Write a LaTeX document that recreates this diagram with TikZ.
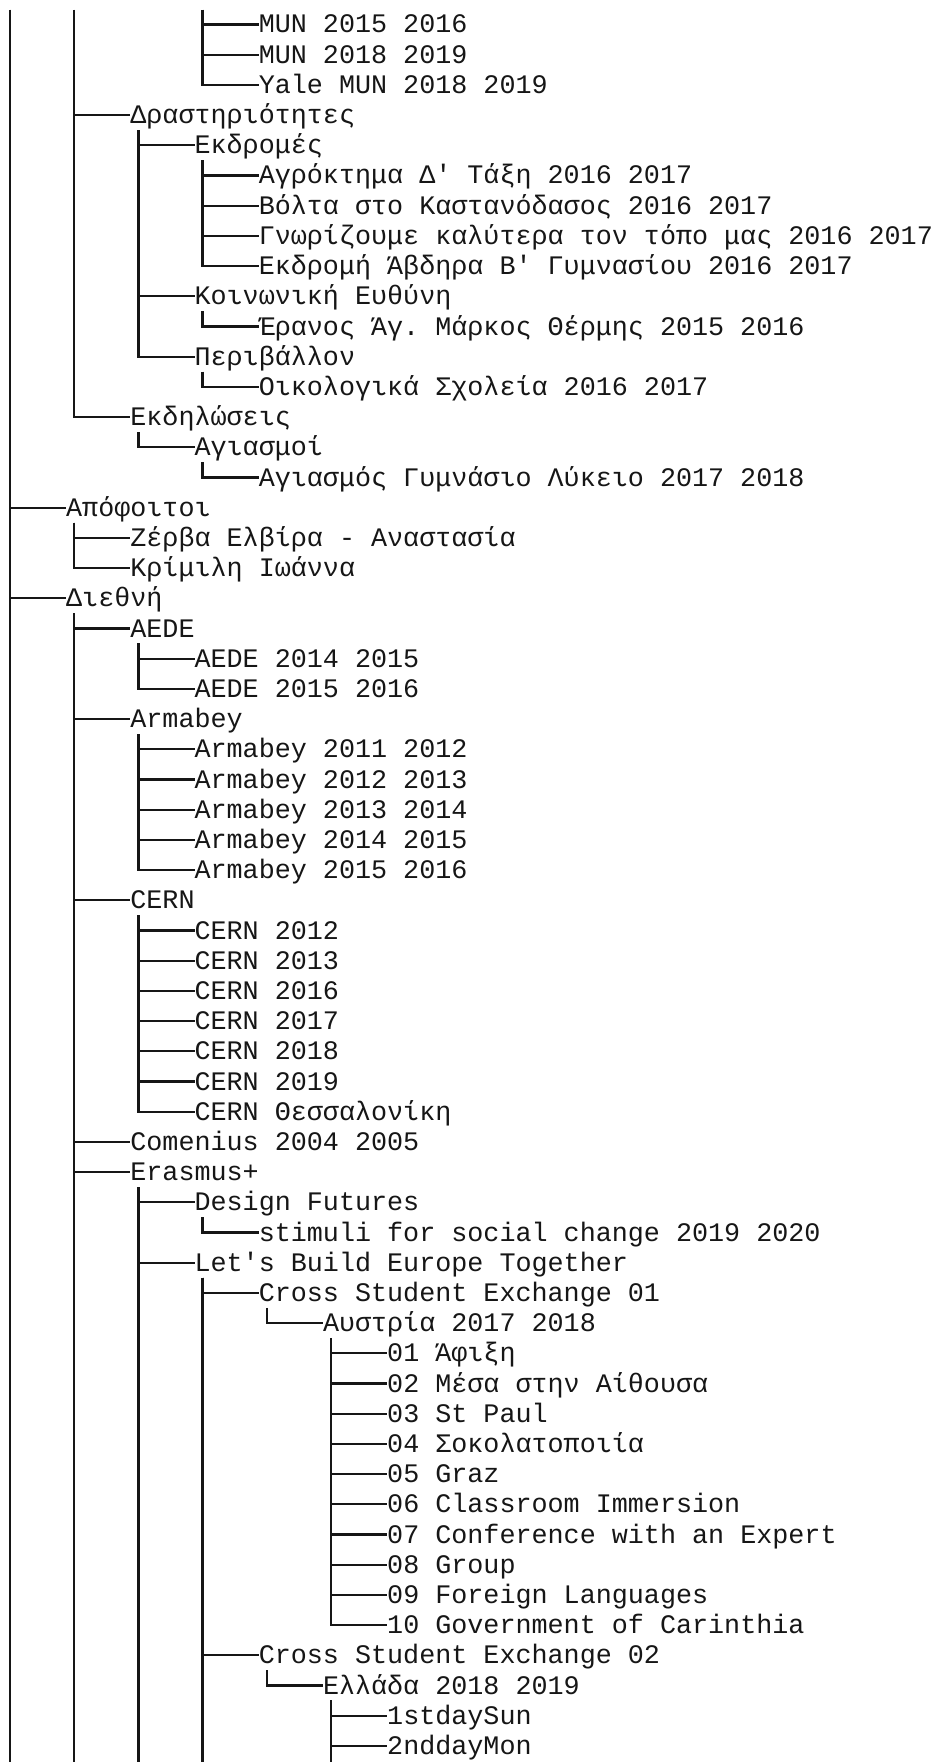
\documentclass[tikz,border=0pt]{standalone}
\usepackage{fontspec}
\setmonofont{Liberation Mono}
\definecolor{ink}{RGB}{22,22,22}
\tikzset{
  item/.style={anchor=west, inner sep=0pt, outer sep=0pt,
    font=\ttfamily\fontsize{20.06pt}{24pt}\selectfont, text=ink,
    text height=15pt, text depth=2.25pt},
  tree/.style={draw=ink, line width=1.7pt},
}
\newcommand\tn[4]{\node[item] (#1) at ({2+16.05*#2},{24.5+30.2*(#3-1)}) {#4};}
\newcommand\kids[2]{\foreach \kid in {#2}{\draw[tree] ([xshift=6pt,yshift=-2.6pt]#1.south west) |- (\kid.west);}}
\begin{document}
\begin{tikzpicture}[x=0.75pt,y=-0.75pt]
\useasboundingbox (0,0) rectangle (934,1762);
\fill[white] (0,0) rectangle (934,1762);
\clip (0,0) rectangle (934,1762);
% off-screen ancestors and continuation points
\coordinate (T0) at (10,10);
\coordinate (T4) at ({2+16.05*4+8},10);
\coordinate (T12) at ({2+16.05*12+8},10);
\coordinate (B0) at (10,1790);
\coordinate (B4) at ({2+16.05*4+8},1790);
\coordinate (B8) at ({2+16.05*8+8},1790);
\coordinate (B12) at ({2+16.05*12+8},1790);
\coordinate (B20) at ({2+16.05*20+8},1790);
% nodes
\tn{r1}{16}{1}{MUN 2015 2016}
\tn{r2}{16}{2}{MUN 2018 2019}
\tn{r3}{16}{3}{Yale MUN 2018 2019}
\tn{dra}{8}{4}{Δραστηριότητες}
\tn{ekd}{12}{5}{Εκδρομές}
\tn{r6}{16}{6}{Αγρόκτημα Δ' Τάξη 2016 2017}
\tn{r7}{16}{7}{Βόλτα στο Καστανόδασος 2016 2017}
\tn{r8}{16}{8}{Γνωρίζουμε καλύτερα τον τόπο μας 2016 2017}
\tn{r9}{16}{9}{Εκδρομή Άβδηρα Β' Γυμνασίου 2016 2017}
\tn{koi}{12}{10}{Κοινωνική Ευθύνη}
\tn{r11}{16}{11}{Έρανος Άγ. Μάρκος Θέρμης 2015 2016}
\tn{per}{12}{12}{Περιβάλλον}
\tn{r13}{16}{13}{Οικολογικά Σχολεία 2016 2017}
\tn{ekdil}{8}{14}{Εκδηλώσεις}
\tn{agi}{12}{15}{Αγιασμοί}
\tn{r16}{16}{16}{Αγιασμός Γυμνάσιο Λύκειο 2017 2018}
\tn{apo}{4}{17}{Απόφοιτοι}
\tn{r18}{8}{18}{Ζέρβα Ελβίρα - Αναστασία}
\tn{r19}{8}{19}{Κρίμιλη Ιωάννα}
\tn{die}{4}{20}{Διεθνή}
\tn{aede}{8}{21}{AEDE}
\tn{r22}{12}{22}{AEDE 2014 2015}
\tn{r23}{12}{23}{AEDE 2015 2016}
\tn{arm}{8}{24}{Armabey}
\tn{r25}{12}{25}{Armabey 2011 2012}
\tn{r26}{12}{26}{Armabey 2012 2013}
\tn{r27}{12}{27}{Armabey 2013 2014}
\tn{r28}{12}{28}{Armabey 2014 2015}
\tn{r29}{12}{29}{Armabey 2015 2016}
\tn{cern}{8}{30}{CERN}
\tn{r31}{12}{31}{CERN 2012}
\tn{r32}{12}{32}{CERN 2013}
\tn{r33}{12}{33}{CERN 2016}
\tn{r34}{12}{34}{CERN 2017}
\tn{r35}{12}{35}{CERN 2018}
\tn{r36}{12}{36}{CERN 2019}
\tn{r37}{12}{37}{CERN Θεσσαλονίκη}
\tn{com}{8}{38}{Comenius 2004 2005}
\tn{era}{8}{39}{Erasmus+}
\tn{des}{12}{40}{Design Futures}
\tn{r41}{16}{41}{stimuli for social change 2019 2020}
\tn{let}{12}{42}{Let's Build Europe Together}
\tn{cse1}{16}{43}{Cross Student Exchange 01}
\tn{aus}{20}{44}{Αυστρία 2017 2018}
\tn{r45}{24}{45}{01 Άφιξη}
\tn{r46}{24}{46}{02 Μέσα στην Αίθουσα}
\tn{r47}{24}{47}{03 St Paul}
\tn{r48}{24}{48}{04 Σοκολατοποιία}
\tn{r49}{24}{49}{05 Graz}
\tn{r50}{24}{50}{06 Classroom Immersion}
\tn{r51}{24}{51}{07 Conference with an Expert}
\tn{r52}{24}{52}{08 Group}
\tn{r53}{24}{53}{09 Foreign Languages}
\tn{r54}{24}{54}{10 Government of Carinthia}
\tn{cse2}{16}{55}{Cross Student Exchange 02}
\tn{ell}{20}{56}{Ελλάδα 2018 2019}
\tn{r57}{24}{57}{1stdaySun}
\tn{r58}{24}{58}{2nddayMon}
% connectors from off-screen ancestors
\draw[tree] (T0) -- (B0);
\foreach \kid in {apo,die}{\draw[tree] (T0) |- (\kid.west);}
\foreach \kid in {dra,ekdil}{\draw[tree] (T4) |- (\kid.west);}
\foreach \kid in {r1,r2,r3}{\draw[tree] (T12) |- (\kid.west);}
% connectors between visible nodes
\kids{dra}{ekd,koi,per}
\kids{ekd}{r6,r7,r8,r9}
\kids{koi}{r11}
\kids{per}{r13}
\kids{ekdil}{agi}
\kids{agi}{r16}
\kids{apo}{r18,r19}
\kids{die}{aede,arm,cern,com,era}
\draw[tree] ([xshift=6pt,yshift=-2.6pt]die.south west) -- (B4);
\kids{aede}{r22,r23}
\kids{arm}{r25,r26,r27,r28,r29}
\kids{cern}{r31,r32,r33,r34,r35,r36,r37}
\kids{era}{des,let}
\draw[tree] ([xshift=6pt,yshift=-2.6pt]era.south west) -- (B8);
\kids{des}{r41}
\kids{let}{cse1,cse2}
\draw[tree] ([xshift=6pt,yshift=-2.6pt]let.south west) -- (B12);
\kids{cse1}{aus}
\kids{aus}{r45,r46,r47,r48,r49,r50,r51,r52,r53,r54}
\kids{cse2}{ell}
\kids{ell}{r57,r58}
\draw[tree] ([xshift=6pt,yshift=-2.6pt]ell.south west) -- (B20);
\end{tikzpicture}
\end{document}
